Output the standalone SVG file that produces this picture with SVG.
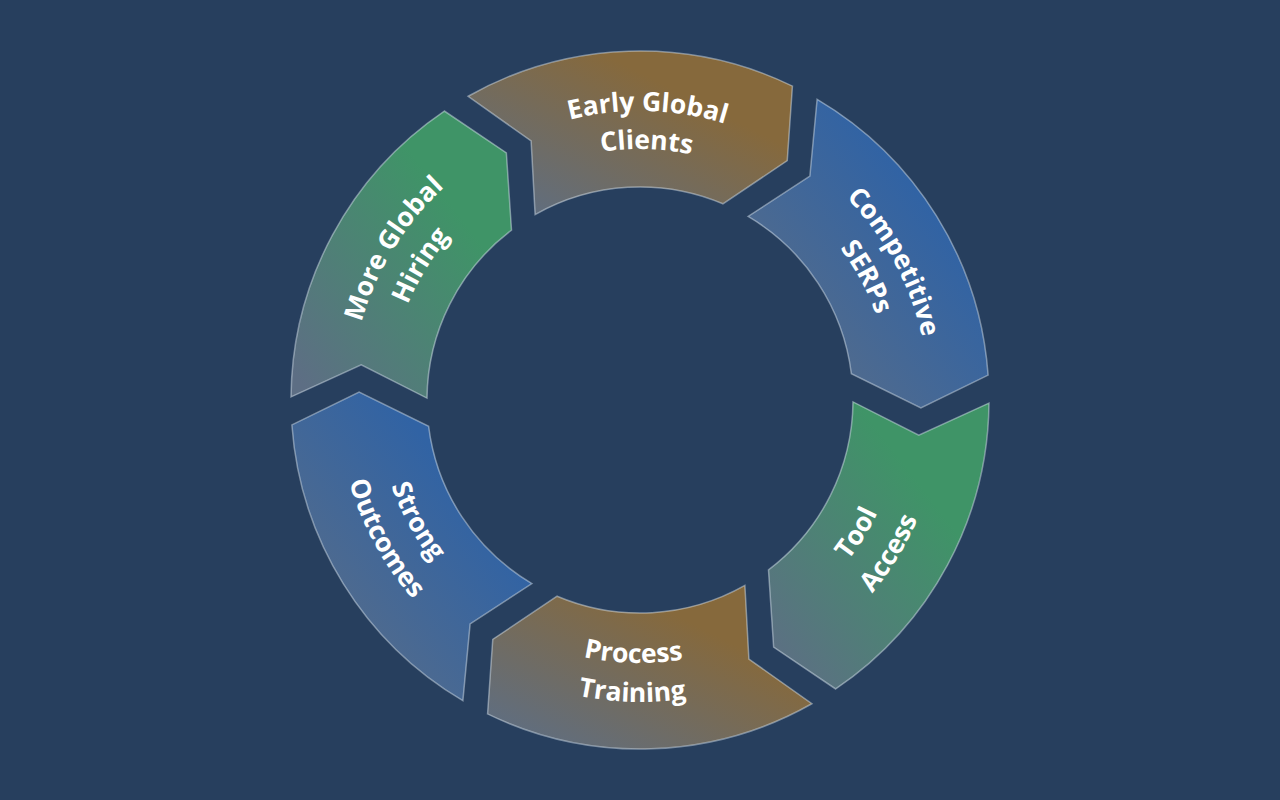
<svg xmlns="http://www.w3.org/2000/svg" width="1280" height="800" viewBox="0 0 1280 800">
<defs>
<style>
.seg{stroke:rgba(225,235,245,0.45);stroke-width:1.5;stroke-linejoin:miter}
.lbl{font-family:"Open Sans","Noto Sans","DejaVu Sans",sans-serif;font-weight:700;font-size:26.5px;fill:#ffffff}
</style>
<linearGradient id="gBrown" x1="0" y1="1" x2="1" y2="0"><stop offset="0.05" stop-color="#5d6e84"/><stop offset="0.7" stop-color="#86693c"/></linearGradient>
<linearGradient id="gBlue" x1="0" y1="1" x2="1" y2="0"><stop offset="0.05" stop-color="#5d6e84"/><stop offset="0.7" stop-color="#3163a4"/></linearGradient>
<linearGradient id="gGreen" x1="0" y1="1" x2="1" y2="0"><stop offset="0.05" stop-color="#5d6e84"/><stop offset="0.7" stop-color="#3f9467"/></linearGradient>
<path id="t0a" d="M351.10,392.43 A289,289 0 0 1 647.57,111.10 A289,289 0 0 1 928.90,407.57"/>
<path id="t0b" d="M389.09,393.43 A251,251 0 0 1 646.57,149.09 A251,251 0 0 1 890.91,406.57"/>
<path id="t1a" d="M502.10,146.02 A289,289 0 0 1 893.98,262.10 A289,289 0 0 1 777.90,653.98"/>
<path id="t1b" d="M520.23,179.42 A251,251 0 0 1 860.58,280.23 A251,251 0 0 1 759.77,620.58"/>
<path id="t2a" d="M502.58,624.24 A263,263 0 0 0 864.24,537.42 A263,263 0 0 0 777.42,175.76"/>
<path id="t2b" d="M482.20,657.50 A302,302 0 0 0 897.50,557.80 A302,302 0 0 0 797.80,142.50"/>
<path id="t3a" d="M377.09,393.11 A263,263 0 0 0 633.11,662.91 A263,263 0 0 0 902.91,406.89"/>
<path id="t3b" d="M338.10,392.09 A302,302 0 0 0 632.09,701.90 A302,302 0 0 0 941.90,407.91"/>
<path id="t4a" d="M514.51,168.87 A263,263 0 0 0 408.87,525.49 A263,263 0 0 0 765.49,631.13"/>
<path id="t4b" d="M495.90,134.60 A302,302 0 0 0 374.60,544.10 A302,302 0 0 0 784.10,665.40"/>
<path id="t5a" d="M489.00,646.41 A289,289 0 0 1 393.59,249.00 A289,289 0 0 1 791.00,153.59"/>
<path id="t5b" d="M508.85,614.01 A251,251 0 0 1 425.99,268.85 A251,251 0 0 1 771.15,185.99"/>
</defs>
<rect width="1280" height="800" fill="#273f5e"/>
<g id="connectors"></g>
<g id="node-early-global-clients">
<path class="seg" fill="url(#gBrown)" d="M468.15,96.24 A349,349 0 0 1 792.44,86.05 L787.24,160.66 L722.88,203.79 A213,213 0 0 0 535.11,214.61 L531.11,140.96 Z"/>
<text class="lbl" text-anchor="middle"><textPath href="#t0a" startOffset="50%">Early Global</textPath></text>
<text class="lbl" text-anchor="middle"><textPath href="#t0b" startOffset="50%">Clients</textPath></text>
</g>
<g id="node-competitive-serps">
<path class="seg" fill="url(#gBlue)" d="M817.13,99.29 A349,349 0 0 1 988.11,375.05 L920.89,407.85 L851.37,373.67 A213,213 0 0 0 748.11,216.47 L809.89,176.17 Z"/>
<text class="lbl" text-anchor="middle"><textPath href="#t1a" startOffset="50%">Competitive</textPath></text>
<text class="lbl" text-anchor="middle"><textPath href="#t1b" startOffset="50%">SERPs</textPath></text>
</g>
<g id="node-tool-access">
<path class="seg" fill="url(#gGreen)" d="M988.99,403.05 A349,349 0 0 1 835.66,688.99 L773.65,647.18 L768.48,569.88 A213,213 0 0 0 852.99,401.86 L918.78,435.22 Z"/>
<text class="lbl" text-anchor="middle"><textPath href="#t2a" startOffset="50%">Tool</textPath></text>
<text class="lbl" text-anchor="middle"><textPath href="#t2b" startOffset="50%">Access</textPath></text>
</g>
<g id="node-process-training">
<path class="seg" fill="url(#gBrown)" d="M811.85,703.76 A349,349 0 0 1 487.56,713.95 L492.76,639.34 L557.12,596.21 A213,213 0 0 0 744.89,585.39 L748.89,659.04 Z"/>
<text class="lbl" text-anchor="middle"><textPath href="#t3a" startOffset="50%">Process</textPath></text>
<text class="lbl" text-anchor="middle"><textPath href="#t3b" startOffset="50%">Training</textPath></text>
</g>
<g id="node-strong-outcomes">
<path class="seg" fill="url(#gBlue)" d="M462.87,700.71 A349,349 0 0 1 291.89,424.95 L359.11,392.15 L428.63,426.33 A213,213 0 0 0 531.89,583.53 L470.11,623.83 Z"/>
<text class="lbl" text-anchor="middle"><textPath href="#t4a" startOffset="50%">Strong</textPath></text>
<text class="lbl" text-anchor="middle"><textPath href="#t4b" startOffset="50%">Outcomes</textPath></text>
</g>
<g id="node-more-global-hiring">
<path class="seg" fill="url(#gGreen)" d="M291.01,396.95 A349,349 0 0 1 444.34,111.01 L506.35,152.82 L511.52,230.12 A213,213 0 0 0 427.01,398.14 L361.22,364.78 Z"/>
<text class="lbl" text-anchor="middle"><textPath href="#t5a" startOffset="50%">More Global</textPath></text>
<text class="lbl" text-anchor="middle"><textPath href="#t5b" startOffset="50%">Hiring</textPath></text>
</g>
</svg>
